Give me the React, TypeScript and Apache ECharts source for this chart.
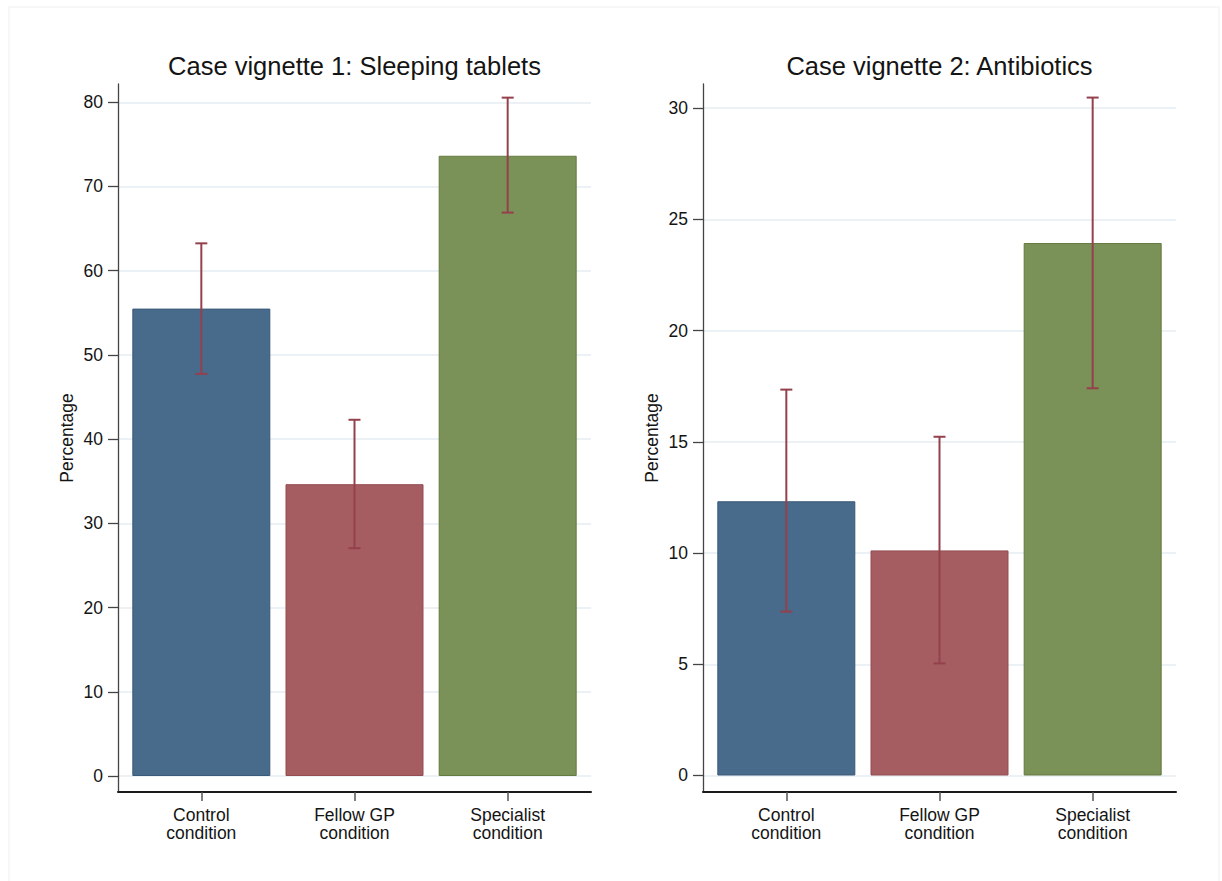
import React, { useEffect, useRef } from "react";
import * as echarts from "echarts";

// ---- data ----
const categories = ["Control\ncondition", "Fellow GP\ncondition", "Specialist\ncondition"];
const panelTitles = ["Case vignette 1: Sleeping tablets", "Case vignette 2: Antibiotics"];
const yAxisName = "Percentage";

const sleepMeans = [55.5, 34.65, 73.65];
const sleepLow = [47.75, 27.05, 66.9];
const sleepHigh = [63.25, 42.3, 80.55];
const sleepTicks = [0, 10, 20, 30, 40, 50, 60, 70, 80];

const abxMeans = [12.33, 10.12, 23.94];
const abxLow = [7.37, 5.04, 17.41];
const abxHigh = [17.35, 15.23, 30.48];
const abxTicks = [0, 5, 10, 15, 20, 25, 30];

// ---- styles ----
const FONT = "'Liberation Sans', Arial, sans-serif";
const barColors = ["#486a8b", "#a55d61", "#7a9157"];
const barBorders = ["#3a5a7a", "#944c52", "#65793f"];
const errColor = "#94404d";
const textColor = "#141414";

export default function App() {
  const ref = useRef<HTMLDivElement>(null);

  useEffect(() => {
    document.body.style.margin = "0";
    if (!ref.current) return;
    const chart = echarts.init(ref.current, null, { renderer: "svg" });

    const panels = [
      { means: sleepMeans, low: sleepLow, high: sleepHigh, ticks: sleepTicks, min: -1.9, max: 82.17, left: 118 },
      { means: abxMeans, low: abxLow, high: abxHigh, ticks: abxTicks, min: -0.742, max: 31.09, left: 703 },
    ];
    const gridW = 473;
    const gridTop = 84;
    const gridH = 708;

    const grids = panels.map((p) => ({ left: p.left, top: gridTop, width: gridW, height: gridH }));

    const xAxes = panels.map((p, i) => ({
      type: "value",
      gridIndex: i,
      min: -0.544,
      max: 2.544,
      splitLine: { show: false },
      axisLine: { show: true, onZero: false, lineStyle: { color: "#1a1a1a", width: 2 } },
      axisTick: { show: true, customValues: [0, 1, 2], length: 9, lineStyle: { color: "#555", width: 1.5 } },
      axisLabel: {
        customValues: [0, 1, 2],
        formatter: (v: number) => categories[Math.round(v)] ?? "",
        fontSize: 17.5,
        lineHeight: 18,
        color: textColor,
        fontFamily: FONT,
        margin: 14,
        align: "center",
      },
    }));

    const yAxes = panels.map((p, i) => ({
      type: "value",
      gridIndex: i,
      min: p.min,
      max: p.max,
      name: yAxisName,
      nameLocation: "middle",
      nameGap: 42,
      nameTextStyle: { fontSize: 17.5, color: textColor, fontFamily: FONT },
      axisLine: { show: true, onZero: false, lineStyle: { color: "#444", width: 1.3 } },
      axisTick: { show: true, customValues: p.ticks, length: 10, lineStyle: { color: "#444", width: 1.3 } },
      axisLabel: { customValues: p.ticks, fontSize: 17.5, color: textColor, fontFamily: FONT, margin: 15 },
      splitLine: { show: true, lineStyle: { color: "#e5edf0", width: 1.5 } },
    }));

    const series: any[] = [];
    panels.forEach((p, i) => {
      series.push({
        type: "bar",
        xAxisIndex: i,
        yAxisIndex: i,
        barWidth: 138,
        data: p.means.map((v, k) => ({
          value: [k, v],
          itemStyle: { color: barColors[k], borderColor: barBorders[k], borderWidth: 1 },
        })),
      });
      series.push({
        type: "custom",
        xAxisIndex: i,
        yAxisIndex: i,
        z: 10,
        encode: { x: 0, y: [1, 2] },
        data: p.low.map((l, k) => [k, l, p.high[k]]),
        renderItem: (params: any, api: any) => {
          const x = api.value(0);
          const lo = api.coord([x, api.value(1)]);
          const hi = api.coord([x, api.value(2)]);
          const hw = 6;
          const style = { stroke: errColor, lineWidth: 2 };
          return {
            type: "group",
            children: [
              { type: "line", shape: { x1: lo[0], y1: lo[1], x2: hi[0], y2: hi[1] }, style },
              { type: "line", shape: { x1: hi[0] - hw, y1: hi[1], x2: hi[0] + hw, y2: hi[1] }, style },
              { type: "line", shape: { x1: lo[0] - hw, y1: lo[1], x2: lo[0] + hw, y2: lo[1] }, style },
            ],
          };
        },
      });
    });

    chart.setOption({
      animation: false,
      backgroundColor: "#ffffff",
      title: panels.map((p, i) => ({
        text: panelTitles[i],
        left: p.left + gridW / 2,
        top: 53,
        textAlign: "center",
        padding: 0,
        textStyle: { fontSize: 25.5, fontWeight: "normal", color: textColor, fontFamily: FONT },
      })),
      grid: grids,
      xAxis: xAxes,
      yAxis: yAxes,
      series,
      graphic: [
        {
          type: "rect",
          shape: { x: 9, y: 7, width: 1210, height: 880 },
          style: { fill: "none", stroke: "#efefef", lineWidth: 1 },
          silent: true,
        },
      ],
    });

    return () => chart.dispose();
  }, []);

  return <div ref={ref} style={{ width: 1222, height: 881 }} />;
}
